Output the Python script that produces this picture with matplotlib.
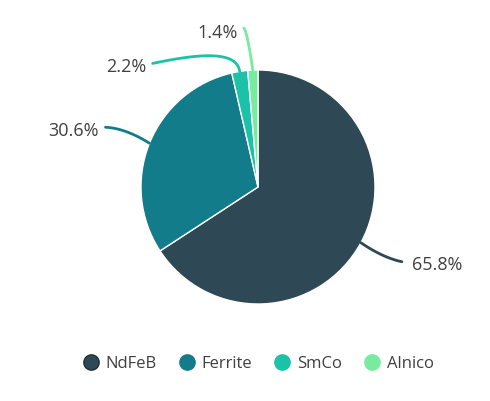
import matplotlib.pyplot as plt
import numpy as np
from matplotlib.lines import Line2D

plt.rcParams['font.family'] = ['Open Sans', 'DejaVu Sans']

# dados
materiais = ['NdFeB', 'Ferrite', 'SmCo', 'Alnico']
percentuais = [65.8, 30.6, 2.2, 1.4]
cores = ['#2e4855', '#137c8b', '#1cc2a8', '#78ec9e']

W, H = 490, 401
fig = plt.figure(figsize=(W / 100, H / 100), dpi=100)
ax = fig.add_axes([0, 0, 1, 1])

cx, cy, r = 258, H - 187, 117
wedges, _ = ax.pie(percentuais, colors=cores, startangle=90, counterclock=False,
                   center=(cx, cy), radius=r, frame=True,
                   wedgeprops=dict(edgecolor='white', linewidth=1))
ax.set_xlim(0, W)
ax.set_ylim(0, H)
ax.axis('off')


def bezier(pts, n=40):
    # curva de bezier simples (quadratica ou cubica)
    pts = np.array(pts, dtype=float)
    t = np.linspace(0, 1, n)[:, None]
    if len(pts) == 3:
        return (1 - t) ** 2 * pts[0] + 2 * (1 - t) * t * pts[1] + t ** 2 * pts[2]
    return ((1 - t) ** 3 * pts[0] + 3 * (1 - t) ** 2 * t * pts[1]
            + 3 * (1 - t) * t ** 2 * pts[2] + t ** 3 * pts[3])


# deslocamentos das linhas de chamada (pixels, y para baixo) e posicao do texto
guias = [
    [(22, 15), (41, 19)],
    [(-24, -15), (-44, -16)],
    [(-3, -21), (-40, -18), (-87, -8)],
    [(-6, -40), (-9, -42)],
]
textos = [(51, 22, 'left'), (-51, -12, 'right'), (-93, -4, 'right'), (-15, -37, 'right')]

for w, pct, cor, g, (tx, ty, ha) in zip(wedges, percentuais, cores, guias, textos):
    ang = np.deg2rad((w.theta1 + w.theta2) / 2)
    x0 = cx + r * np.cos(ang)
    y0 = cy + r * np.sin(ang)
    pts = [(x0, y0)] + [(x0 + dx, y0 - dy) for dx, dy in g]
    curva = bezier(pts)
    ax.plot(curva[:, 0], curva[:, 1], color=cor, lw=2, solid_capstyle='round')
    ax.text(x0 + tx, y0 - ty, f'{pct}%', ha=ha, va='center', fontsize=13, color='#404040')

# legenda
handles = [Line2D([], [], marker='o', linestyle='', markersize=11, markerfacecolor=c,
                  markeredgecolor=c) for c in cores]
handles[0].set_markeredgecolor('#1f2f37')
fig.legend(handles, materiais, loc='center', bbox_to_anchor=(259 / W, 37 / H), ncol=4,
           frameon=False, fontsize=12, handlelength=0.8, handletextpad=0.5,
           columnspacing=1.4, labelcolor='#404040')

plt.savefig('out.png', dpi=100)
